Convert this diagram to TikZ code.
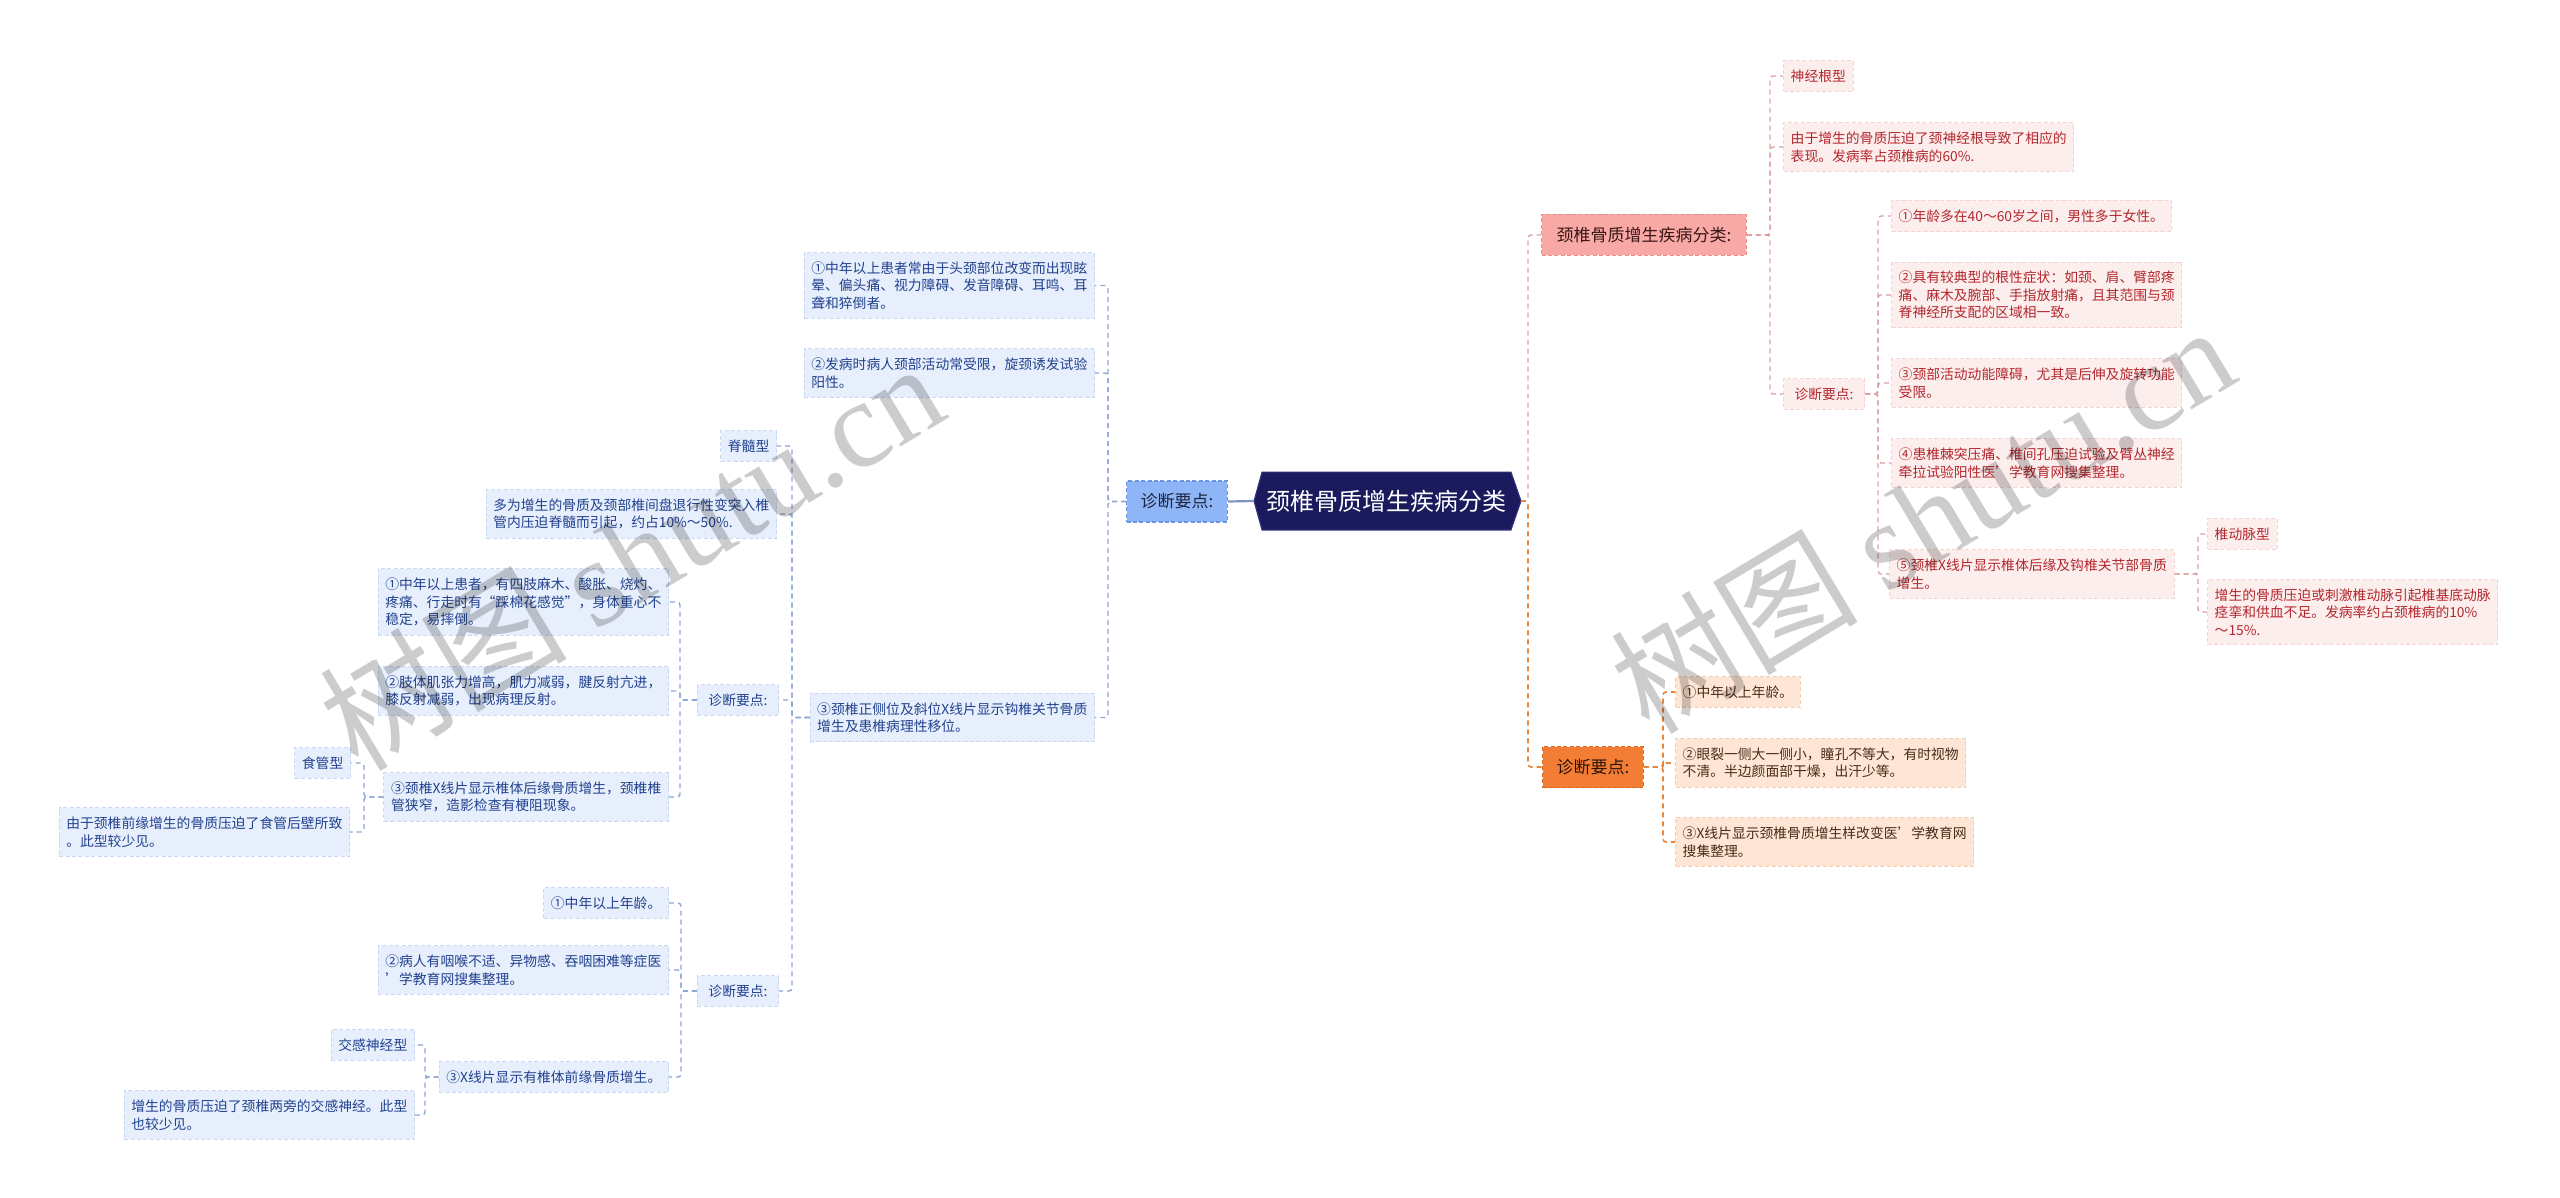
\documentclass[tikz,border=0pt]{standalone}
\usepackage{fontspec}
\setmainfont{Noto Sans CJK SC}
\newfontfamily\wmlatin{Liberation Serif}
\usetikzlibrary{backgrounds}
\definecolor{bfill}{HTML}{E7EFFC}
\definecolor{bedge}{HTML}{C9D9F4}
\definecolor{btext}{HTML}{22428F}
\definecolor{bline}{HTML}{8CA6D6}
\definecolor{lfill}{HTML}{8EB5F5}
\definecolor{ledge}{HTML}{6A96E4}
\definecolor{ltext}{HTML}{1B2440}
\definecolor{rootfill}{HTML}{1B1A5C}
\definecolor{rootedge}{HTML}{2E2E7A}
\definecolor{pfill}{HTML}{FDEEEE}
\definecolor{pedge}{HTML}{F6D3D3}
\definecolor{ptext}{HTML}{B2272C}
\definecolor{pline}{HTML}{DBA2A2}
\definecolor{rfill}{HTML}{F8A9A6}
\definecolor{redge}{HTML}{EE8C88}
\definecolor{rtext}{HTML}{3B1616}
\definecolor{ofill}{HTML}{FDE6D6}
\definecolor{oedge}{HTML}{F6CBAE}
\definecolor{otext}{HTML}{4B2B17}
\definecolor{oline}{HTML}{E9843A}
\definecolor{ofill2}{HTML}{F47D36}
\definecolor{oedge2}{HTML}{DE6A22}
\definecolor{otext2}{HTML}{2B1406}
\begin{document}
\begin{tikzpicture}[x=0.5pt,y=-0.5pt,
 base/.style={font=\fontsize{6.9pt}{8.75pt}\selectfont, align=left, inner xsep=3.6pt, inner ysep=4.5pt, line width=0.5pt, dash pattern=on 2pt off 1.2pt},
 bbox/.style={base, fill=bfill, draw=bedge, text=btext, anchor=east},
 pbox/.style={base, fill=pfill, draw=pedge, text=ptext, anchor=west},
 obox/.style={base, fill=ofill, draw=oedge, text=otext, anchor=west},
 mainbox/.style={font=\fontsize{8.5pt}{10pt}\selectfont, inner xsep=7pt, inner ysep=2pt, minimum height=20.5pt, line width=0.6pt, dash pattern=on 2pt off 1.2pt},
 bconn/.style={draw=bline, line width=0.7pt, dash pattern=on 2.5pt off 2pt, rounded corners=1.5pt},
 pconn/.style={draw=pline, line width=0.7pt, dash pattern=on 2.5pt off 2pt, rounded corners=1.5pt},
 oconn/.style={draw=oline, line width=0.8pt, dash pattern=on 2.5pt off 2pt, rounded corners=1.5pt},
 wmark/.style={rotate=31, text=black, text opacity=0.2, font=\fontsize{62pt}{66pt}\selectfont}
]
\begin{scope}[on background layer]
\fill[white] (0,0) rectangle (2560,1198);
\end{scope}
\useasboundingbox (0,0) rectangle (2560,1198);

% trunk coordinates
\coordinate (tRoot) at (1528,0);
\coordinate (tL1) at (1108,0);
\coordinate (tA3) at (792,0);
\coordinate (tB3) at (680,0);
\coordinate (tC3) at (364,0);
\coordinate (tB4) at (681,0);
\coordinate (tE3) at (425,0);
\coordinate (tR1) at (1770,0);
\coordinate (tG3) at (1878,0);
\coordinate (tH5) at (2198,0);
\coordinate (tR2) at (1663,0);

% root
\node[font=\fontsize{12pt}{14pt}\selectfont, text=white, minimum height=28.5pt, inner xsep=2pt, inner ysep=0pt] (root) at (1386.5,501) {颈椎骨质增生疾病分类};
\coordinate (rootL) at ([xshift=-4pt]root.west);
\coordinate (rootR) at ([xshift=5pt]root.east);
\begin{scope}[on background layer]
\filldraw[fill=rootfill, draw=rootedge, line width=0.6pt] (rootL) -- (root.north west) -- (root.north east) -- (rootR) -- (root.south east) -- (root.south west) -- cycle;
\end{scope}

% level 1
\node[mainbox, fill=lfill, draw=ledge, text=ltext, anchor=east] (L1) at (1228,501.5) {诊断要点:};
\node[mainbox, fill=rfill, draw=redge, text=rtext, anchor=west, inner xsep=7.5pt] (R1) at (1541,235) {颈椎骨质增生疾病分类:};
\node[mainbox, fill=ofill2, draw=oedge2, text=otext2, anchor=west] (R2) at (1542,767) {诊断要点:};

% left tree
\node[bbox] (A1) at (1095,285.5) {①中年以上患者常由于头颈部位改变而出现眩\\晕、偏头痛、视力障碍、发音障碍、耳鸣、耳\\聋和猝倒者。};
\node[bbox] (A2) at (1095,373) {②发病时病人颈部活动常受限，旋颈诱发试验\\阳性。};
\node[bbox] (A3) at (1095,717.5) {③颈椎正侧位及斜位X线片显示钩椎关节骨质\\增生及患椎病理性移位。};

\node[bbox] (B1) at (777,446) {脊髓型};
\node[bbox] (B2) at (777,514) {多为增生的骨质及颈部椎间盘退行性变突入椎\\管内压迫脊髓而引起，约占10\%～50\%.};
\node[bbox, inner xsep=5.5pt] (B3) at (779,700) {诊断要点:};
\node[bbox, inner xsep=5.5pt] (B4) at (779,991) {诊断要点:};

\node[bbox] (C1) at (669,602) {①中年以上患者，有四肢麻木、酸胀、烧灼、\\疼痛、行走时有“踩棉花感觉”，身体重心不\\稳定，易摔倒。};
\node[bbox] (C2) at (669,691) {②肢体肌张力增高，肌力减弱，腱反射亢进，\\膝反射减弱，出现病理反射。};
\node[bbox] (C3) at (669,797) {③颈椎X线片显示椎体后缘骨质增生，颈椎椎\\管狭窄，造影检查有梗阻现象。};

\node[bbox] (D1) at (351,763) {食管型};
\node[bbox] (D2) at (350,832) {由于颈椎前缘增生的骨质压迫了食管后壁所致\\。此型较少见。};

\node[bbox] (E1) at (669,903) {①中年以上年龄。};
\node[bbox] (E2) at (669,970) {②病人有咽喉不适、异物感、吞咽困难等症医\\'学教育网搜集整理。};
\node[bbox] (E3) at (669,1077) {③X线片显示有椎体前缘骨质增生。};

\node[bbox] (F1) at (415,1045) {交感神经型};
\node[bbox] (F2) at (415,1115) {增生的骨质压迫了颈椎两旁的交感神经。此型\\也较少见。};

% right tree
\node[pbox] (G1) at (1783,76) {神经根型};
\node[pbox] (G2) at (1783,147) {由于增生的骨质压迫了颈神经根导致了相应的\\表现。发病率占颈椎病的60\%.};
\node[pbox, inner xsep=5.5pt] (G3) at (1783,394) {诊断要点:};

\node[pbox] (H1) at (1891,216) {①年龄多在40～60岁之间，男性多于女性。};
\node[pbox] (H2) at (1891,295) {②具有较典型的根性症状：如颈、肩、臂部疼\\痛、麻木及腕部、手指放射痛，且其范围与颈\\脊神经所支配的区域相一致。};
\node[pbox] (H3) at (1891,383) {③颈部活动动能障碍，尤其是后伸及旋转功能\\受限。};
\node[pbox] (H4) at (1891,463) {④患椎棘突压痛、椎间孔压迫试验及臂丛神经\\牵拉试验阳性医'学教育网搜集整理。};
\node[pbox] (H5) at (1889,574) {⑤颈椎X线片显示椎体后缘及钩椎关节部骨质\\增生。};

\node[pbox] (I1) at (2207,534) {椎动脉型};
\node[pbox] (I2) at (2207,612) {增生的骨质压迫或刺激椎动脉引起椎基底动脉\\痉挛和供血不足。发病率约占颈椎病的10\%\\～15\%.};

\node[obox] (J1) at (1675,692) {①中年以上年龄。};
\node[obox] (J2) at (1675,763) {②眼裂一侧大一侧小，瞳孔不等大，有时视物\\不清。半边颜面部干燥，出汗少等。};
\node[obox] (J3) at (1675,842) {③X线片显示颈椎骨质增生样改变医'学教育网\\搜集整理。};

% connectors: root
\draw[draw=bline!90!black, line width=1.1pt] (rootL) -- (L1.east);
\draw[pconn] (rootR) -- (rootR -| tRoot) |- (R1.west);
\draw[oconn] (rootR) -- (rootR -| tRoot) |- (R2.west);

% left connectors
\foreach \c in {A1,A2,A3} \draw[bconn] (L1.west) -- (L1.west -| tL1) |- (\c.east);
\foreach \c in {B1,B2,B3,B4} \draw[bconn] (A3.west) -- (A3.west -| tA3) |- (\c.east);
\foreach \c in {C1,C2,C3} \draw[bconn] (B3.west) -- (B3.west -| tB3) |- (\c.east);
\foreach \c in {D1,D2} \draw[bconn] (C3.west) -- (C3.west -| tC3) |- (\c.east);
\foreach \c in {E1,E2,E3} \draw[bconn] (B4.west) -- (B4.west -| tB4) |- (\c.east);
\foreach \c in {F1,F2} \draw[bconn] (E3.west) -- (E3.west -| tE3) |- (\c.east);

% right connectors
\foreach \c in {G1,G2,G3} \draw[pconn] (R1.east) -- (R1.east -| tR1) |- (\c.west);
\foreach \c in {H1,H2,H3,H4,H5} \draw[pconn] (G3.east) -- (G3.east -| tG3) |- (\c.west);
\foreach \c in {I1,I2} \draw[pconn] (H5.east) -- (H5.east -| tH5) |- (\c.west);
\foreach \c in {J1,J2,J3} \draw[oconn] (R2.east) -- (R2.east -| tR2) |- (\c.west);

% watermarks
\node[wmark] (wm1) at (631,555) {树图 {\wmlatin shutu.cn}};
\node[wmark] (wm2) at (1922,518) {树图 {\wmlatin shutu.cn}};
\end{tikzpicture}
\end{document}
